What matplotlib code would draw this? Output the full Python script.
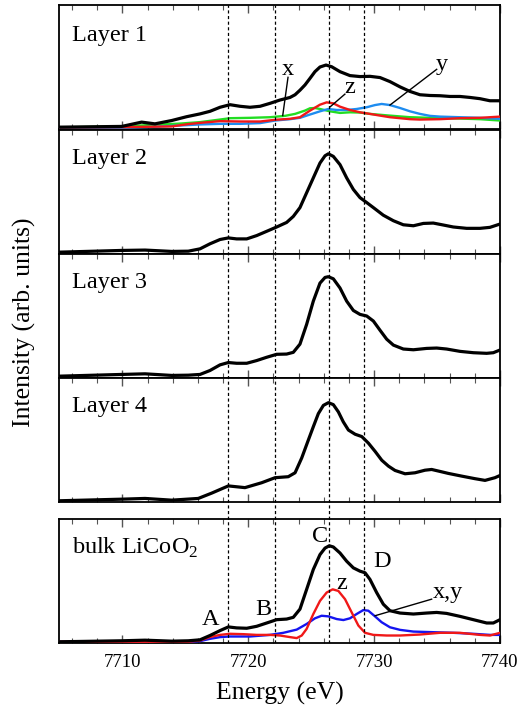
import matplotlib
matplotlib.use("Agg")
import matplotlib.pyplot as plt
from matplotlib.ticker import MultipleLocator

plt.rcParams['font.family'] = ['Liberation Serif', 'DejaVu Serif']
plt.rcParams['mathtext.fontset'] = 'custom'
plt.rcParams['mathtext.rm'] = 'Liberation Serif'

# ---------------- data (energy in eV, intensity in arb. units) ----------------
# Layer 1
l1_black_x = [7705.0, 7709.95, 7711.53, 7712.59, 7713.92, 7715.10, 7716.17, 7716.96, 7717.76, 7718.55,
              7719.35, 7720.14, 7720.94, 7721.73, 7722.52, 7723.32, 7723.72, 7724.11, 7724.51, 7724.91,
              7725.30, 7725.70, 7726.18, 7726.63, 7727.29, 7728.08, 7728.88, 7729.67, 7730.47, 7731.26,
              7732.06, 7732.85, 7733.64, 7734.44, 7735.23, 7736.03, 7736.82, 7737.62, 7738.41, 7739.20,
              7740.0]
l1_black_y = [0.005, 0.011, 0.046, 0.032, 0.059, 0.090, 0.113, 0.134, 0.167, 0.188,
              0.175, 0.167, 0.175, 0.199, 0.226, 0.247, 0.269, 0.306, 0.349, 0.403,
              0.457, 0.495, 0.511, 0.497, 0.457, 0.425, 0.417, 0.419, 0.409, 0.376,
              0.333, 0.296, 0.269, 0.263, 0.261, 0.255, 0.255, 0.247, 0.237, 0.220,
              0.220]
l1_x_x = [7705.0, 7709.95, 7712.59, 7714.71, 7716.17, 7717.76, 7718.55, 7720.14, 7721.73, 7722.92,
          7723.72, 7724.51, 7724.91, 7725.30, 7725.70, 7726.50, 7727.29, 7728.08, 7728.88, 7729.67,
          7731.26, 7732.85, 7734.44, 7736.82, 7738.41, 7740.0]
l1_x_y = [0.003, 0.011, 0.024, 0.035, 0.046, 0.067, 0.078, 0.081, 0.086, 0.097,
          0.113, 0.140, 0.159, 0.161, 0.153, 0.134, 0.121, 0.126, 0.124, 0.113,
          0.099, 0.086, 0.081, 0.075, 0.070, 0.059]
l1_z_x = [7705.0, 7709.95, 7713.92, 7715.24, 7716.17, 7717.76, 7719.35, 7720.94, 7722.13, 7723.32,
          7724.11, 7724.91, 7725.70, 7726.23, 7726.76, 7727.29, 7728.08, 7728.88, 7729.67, 7730.47,
          7731.26, 7732.06, 7732.85, 7733.64, 7735.23, 7736.82, 7738.41, 7740.0]
l1_z_y = [0.003, 0.005, 0.011, 0.030, 0.040, 0.054, 0.051, 0.051, 0.065, 0.073,
          0.086, 0.140, 0.188, 0.207, 0.199, 0.172, 0.145, 0.126, 0.113, 0.099,
          0.086, 0.078, 0.070, 0.067, 0.070, 0.078, 0.081, 0.091]
l1_y_x = [7705.0, 7709.95, 7712.59, 7715.24, 7716.17, 7717.76, 7719.35, 7720.94, 7722.13, 7723.32,
          7724.11, 7724.91, 7725.70, 7726.36, 7727.03, 7727.82, 7728.61, 7729.41, 7730.07, 7730.60,
          7731.26, 7732.06, 7732.85, 7733.64, 7734.44, 7735.23, 7736.82, 7738.41, 7740.0]
l1_y_y = [0.000, 0.000, 0.008, 0.022, 0.027, 0.032, 0.032, 0.038, 0.059, 0.070,
          0.081, 0.108, 0.134, 0.153, 0.145, 0.145, 0.153, 0.167, 0.185, 0.194,
          0.185, 0.161, 0.134, 0.113, 0.097, 0.091, 0.086, 0.081, 0.073]

# Layer 2
l2_x = [7705.0, 7709.95, 7711.80, 7713.92, 7715.24, 7716.17, 7716.96, 7717.76, 7718.42, 7719.08,
        7719.88, 7720.67, 7721.47, 7722.26, 7723.05, 7723.58, 7724.11, 7724.64, 7725.17, 7725.70,
        7726.10, 7726.36, 7726.76, 7727.29, 7727.82, 7728.35, 7728.88, 7729.41, 7729.94, 7730.73,
        7731.53, 7732.32, 7733.12, 7733.91, 7734.70, 7735.50, 7736.29, 7737.35, 7738.41, 7739.20,
        7740.0]
l2_y = [0.005, 0.019, 0.022, 0.011, 0.013, 0.032, 0.073, 0.108, 0.121, 0.113,
        0.113, 0.140, 0.175, 0.210, 0.247, 0.296, 0.368, 0.489, 0.610, 0.731,
        0.790, 0.806, 0.785, 0.718, 0.610, 0.516, 0.449, 0.409, 0.368, 0.306,
        0.261, 0.228, 0.220, 0.239, 0.242, 0.226, 0.210, 0.199, 0.199, 0.207,
        0.234]

# Layer 3
l3_x = [7705.0, 7709.95, 7711.80, 7713.92, 7715.24, 7716.17, 7716.96, 7717.76, 7718.42, 7719.08,
        7719.88, 7720.67, 7721.47, 7722.26, 7723.05, 7723.58, 7724.11, 7724.64, 7725.17, 7725.70,
        7726.10, 7726.36, 7726.76, 7727.29, 7727.82, 7728.35, 7728.88, 7729.41, 7729.94, 7730.47,
        7731.00, 7731.53, 7732.32, 7733.12, 7734.17, 7734.97, 7735.76, 7736.82, 7737.88, 7738.94,
        7739.47, 7740.0]
l3_y = [0.005, 0.019, 0.024, 0.011, 0.013, 0.019, 0.051, 0.097, 0.116, 0.110,
        0.110, 0.132, 0.159, 0.183, 0.185, 0.199, 0.266, 0.427, 0.616, 0.763,
        0.809, 0.815, 0.798, 0.723, 0.616, 0.540, 0.508, 0.495, 0.454, 0.379,
        0.306, 0.258, 0.226, 0.220, 0.231, 0.234, 0.226, 0.207, 0.196, 0.191,
        0.196, 0.218]

# Layer 4
l4_x = [7705.0, 7709.95, 7711.80, 7713.92, 7716.03, 7717.09, 7718.42, 7719.74, 7721.07, 7722.13,
        7723.18, 7723.72, 7724.25, 7724.78, 7725.17, 7725.57, 7725.97, 7726.37, 7726.76, 7727.16,
        7727.55, 7727.96, 7728.49, 7729.02, 7729.55, 7730.08, 7730.61, 7731.14, 7731.66, 7732.46,
        7733.25, 7734.04, 7734.57, 7735.36, 7735.89, 7736.95, 7738.01, 7738.81, 7739.60, 7740.0]
l4_y = [0.000, 0.013, 0.019, 0.005, 0.019, 0.062, 0.121, 0.107, 0.147, 0.188,
        0.196, 0.228, 0.349, 0.496, 0.603, 0.710, 0.777, 0.799, 0.783, 0.724,
        0.643, 0.576, 0.542, 0.523, 0.469, 0.402, 0.330, 0.282, 0.247, 0.220,
        0.228, 0.249, 0.255, 0.236, 0.223, 0.201, 0.180, 0.166, 0.188, 0.206]

# bulk LiCoO2
bk_x = [7705.0, 7709.95, 7711.80, 7713.92, 7715.24, 7716.17, 7716.96, 7717.76, 7718.42, 7719.08,
        7719.88, 7720.67, 7721.47, 7722.26, 7723.05, 7723.58, 7724.11, 7724.64, 7725.17, 7725.70,
        7726.10, 7726.44, 7726.76, 7727.29, 7727.82, 7728.35, 7728.88, 7729.28, 7729.67, 7730.20,
        7730.73, 7731.26, 7732.06, 7733.12, 7734.17, 7734.97, 7735.76, 7736.82, 7737.88, 7738.94,
        7739.47, 7740.0]
bk_y = [0.000, 0.008, 0.013, 0.005, 0.008, 0.016, 0.051, 0.091, 0.121, 0.113,
        0.110, 0.126, 0.153, 0.180, 0.185, 0.199, 0.266, 0.427, 0.589, 0.710,
        0.763, 0.782, 0.772, 0.723, 0.656, 0.602, 0.575, 0.562, 0.508, 0.401,
        0.306, 0.253, 0.234, 0.226, 0.234, 0.239, 0.231, 0.207, 0.180, 0.153,
        0.153, 0.180]
bk_z_x = [7705.0, 7715.24, 7716.17, 7716.96, 7717.76, 7718.55, 7719.61, 7720.67, 7721.73, 7722.52,
          7723.32, 7723.85, 7724.25, 7724.64, 7725.17, 7725.70, 7726.23, 7726.71, 7727.16, 7727.69,
          7728.22, 7728.75, 7729.28, 7729.94, 7731.00, 7732.06, 7733.64, 7735.23, 7736.82, 7738.41,
          7739.20, 7740.0]
bk_z_y = [0.000, 0.000, 0.011, 0.038, 0.056, 0.065, 0.062, 0.056, 0.056, 0.051,
          0.038, 0.030, 0.051, 0.105, 0.226, 0.333, 0.401, 0.427, 0.414, 0.347,
          0.239, 0.132, 0.073, 0.056, 0.051, 0.051, 0.059, 0.073, 0.073, 0.056,
          0.051, 0.073]
bk_xy_x = [7705.0, 7715.24, 7716.17, 7716.96, 7717.76, 7718.55, 7720.14, 7721.73, 7722.79, 7723.85,
           7724.64, 7725.30, 7725.83, 7726.36, 7727.03, 7727.56, 7728.08, 7728.61, 7729.14, 7729.54,
           7730.07, 7730.60, 7731.26, 7732.06, 7733.12, 7734.70, 7736.29, 7737.88, 7739.20, 7740.0]
bk_xy_y = [0.000, 0.000, 0.005, 0.024, 0.038, 0.043, 0.043, 0.056, 0.073, 0.099,
           0.145, 0.191, 0.212, 0.207, 0.185, 0.177, 0.191, 0.226, 0.258, 0.253,
           0.207, 0.159, 0.118, 0.097, 0.083, 0.078, 0.073, 0.065, 0.056, 0.056]

guide_lines = [7718.4, 7722.1, 7726.4, 7729.2]
panel_titles = ["Layer 1", "Layer 2", "Layer 3", "Layer 4", "bulk LiCoO$_2$"]
xticks = [7710, 7720, 7730, 7740]

# ---------------- figure ----------------
W, H = 526, 709
fig = plt.figure(figsize=(W / 100, H / 100), dpi=100)

left = 59.4 / W
width = (500 - 59.4) / W
ph = 124 / H
bottoms_px = [129, 254, 378, 502, 643]

axes = []
for b in bottoms_px:
    ax = fig.add_axes([left, 1 - b / H, width, ph])
    ax.set_xlim(7705, 7740)
    ax.set_ylim(-0.01, 1.0)
    ax.set_yticks([])
    ax.xaxis.set_major_locator(MultipleLocator(10))
    ax.xaxis.set_minor_locator(MultipleLocator(2))
    ax.tick_params(axis='x', which='both', direction='in', top=True, bottom=True,
                   colors='#555555', labelcolor='black', labelsize=13.5, pad=8)
    ax.tick_params(axis='x', which='major', length=6, width=1.0)
    ax.tick_params(axis='x', which='minor', length=3.5, width=0.8)
    for s in ax.spines.values():
        s.set_linewidth(1.3)
    axes.append(ax)

for ax in axes[:4]:
    ax.set_xticklabels([])

lw_b = 2.3
lw_c = 1.7
green = '#22dd22'
red = '#f01818'
lblue = '#1e8cf0'
dblue = '#1414f0'
kw = dict(solid_joinstyle='round', solid_capstyle='round')

a1, a2, a3, a4, a5 = axes
a1.plot(l1_x_x, l1_x_y, color=green, lw=lw_c, zorder=3, **kw)
a1.plot(l1_y_x, l1_y_y, color=lblue, lw=lw_c, zorder=3, **kw)
a1.plot(l1_z_x, l1_z_y, color=red, lw=lw_c, zorder=4, **kw)
a1.plot(l1_black_x, l1_black_y, color='black', lw=lw_b, zorder=5, **kw)
a2.plot(l2_x, l2_y, color='black', lw=lw_b, **kw)
a3.plot(l3_x, l3_y, color='black', lw=lw_b, **kw)
a4.plot(l4_x, l4_y, color='black', lw=lw_b, **kw)
a5.plot(bk_xy_x, bk_xy_y, color=dblue, lw=lw_c, zorder=3, **kw)
a5.plot(bk_z_x, bk_z_y, color=red, lw=lw_c, zorder=4, **kw)
a5.plot(bk_x, bk_y, color='black', lw=lw_b, zorder=5, **kw)

a5.set_xticks(xticks)
a5.set_xlabel("Energy (eV)", fontsize=18.5, labelpad=8)

title_y = [0.758, 0.772, 0.769, 0.769, 0.764]
for ax, t, ty in zip(axes, panel_titles, title_y):
    ax.text(0.029, ty, t, transform=ax.transAxes, ha='left', va='center', fontsize=17.5)

# annotations layer 1
fs_a = 17.5
a1.text(7723.16, 0.476, "x", ha='center', va='center', fontsize=fs_a)
a1.plot([7723.16, 7722.74], [0.411, 0.099], color='black', lw=1.0, zorder=6)
a1.text(7728.08, 0.331, "z", ha='center', va='center', fontsize=fs_a)
a1.plot([7727.68, 7726.49], [0.274, 0.169], color='black', lw=1.0, zorder=6)
a1.text(7735.37, 0.516, "y", ha='center', va='center', fontsize=fs_a)
a1.plot([7734.97, 7731.26], [0.476, 0.185], color='black', lw=1.0, zorder=6)

# annotations bulk
a5.text(7716.98, 0.185, "A", ha='center', va='center', fontsize=fs_a)
a5.text(7721.2, 0.266, "B", ha='center', va='center', fontsize=fs_a)
a5.text(7725.7, 0.857, "C", ha='center', va='center', fontsize=fs_a)
a5.text(7730.6, 0.656, "D", ha='center', va='center', fontsize=fs_a)
a5.text(7727.42, 0.473, "z", ha='center', va='center', fontsize=fs_a)
a5.text(7735.9, 0.40, "x,y", ha='center', va='center', fontsize=fs_a)
a5.plot([7734.57, 7730.07], [0.347, 0.212], color='black', lw=1.0, zorder=6)

# overlay for dashed guide lines spanning all panels
over = fig.add_axes([left, 1 - 643 / H, width, (643 - 5) / H])
over.set_xlim(7705, 7740)
over.set_ylim(0, 1)
over.axis('off')
over.patch.set_alpha(0)
for g in guide_lines:
    over.axvline(g, color='black', lw=0.9, ls=(0, (2.5, 2)), zorder=1)

fig.text(24 / W, 1 - 322 / H, "Intensity (arb. units)", rotation=90,
         ha='center', va='center', fontsize=18.5)

fig.savefig("out.png", dpi=100)
